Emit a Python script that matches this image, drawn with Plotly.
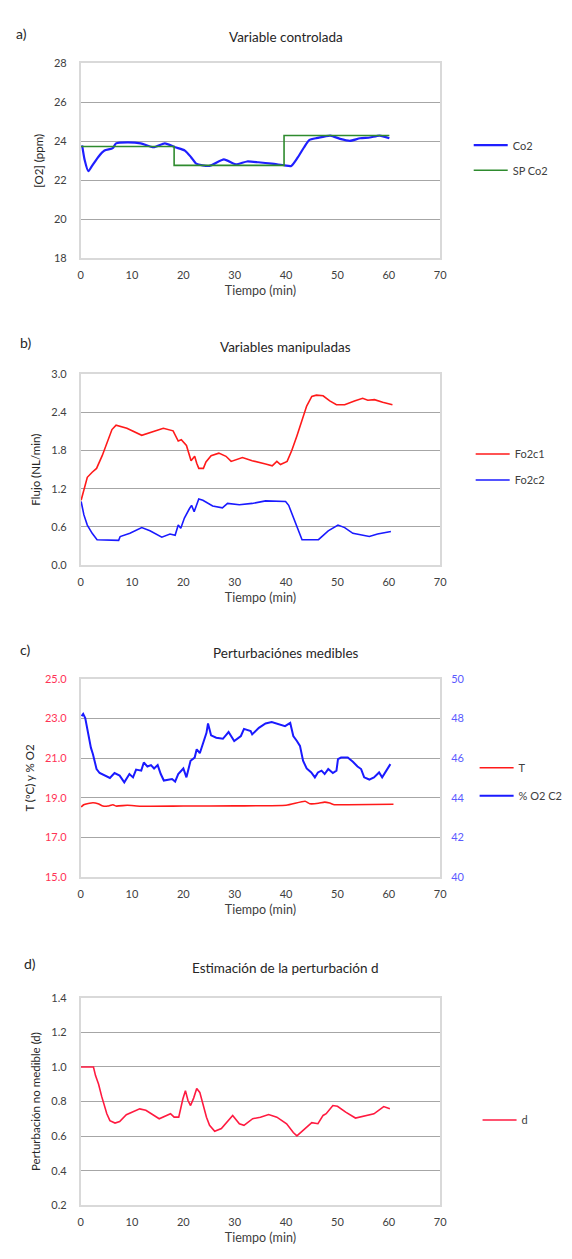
import plotly.graph_objects as go

# ---------------- data ----------------
# a) Variable controlada
t_co2 = [0.3, 0.8, 1.5, 2.1, 3.4, 4.65, 6.25, 6.9, 9.1, 11.7, 14.2, 16.4, 18.4, 20.3, 21.5, 22.5,
         25.05, 27.9, 30.2, 32.4, 34.6, 37.2, 39.7, 41.0, 42.3, 43.5, 44.5, 46.1, 48.6, 50.5,
         52.4, 54.4, 56.3, 58.2, 60.1]
co2 = [23.8, 23.03, 22.47, 22.69, 23.19, 23.53, 23.65, 23.9, 23.95, 23.9, 23.7, 23.9, 23.7, 23.53,
       23.19, 22.86, 22.74, 23.08, 22.82, 22.97, 22.93, 22.86, 22.77, 22.74, 23.19, 23.7, 24.07,
       24.18, 24.3, 24.13, 24.03, 24.16, 24.2, 24.3, 24.16]
t_sp = [0.0, 18.2, 39.6, 60.1]
sp_co2 = [23.74, 22.77, 24.3, 24.3]

# b) Variables manipuladas
t_f1 = [0.1, 0.64, 1.3, 2.25, 3.1, 4.2, 5.15, 6.1, 6.9, 9.0, 11.9, 13.5, 16.1, 18.0, 19.0, 19.6,
        20.6, 21.5, 22.2, 22.6, 23.0, 23.9, 24.4, 25.4, 26.9, 28.3, 29.3, 31.5, 33.4, 36.0, 37.3,
        38.2, 38.9, 40.2, 41.1, 42.1, 43.1, 44.0, 45.0, 45.9, 47.2, 48.5, 49.8, 51.4, 53.3, 54.9,
        55.9, 57.2, 58.8, 60.7]
fo2c1 = [1.02, 1.2, 1.38, 1.46, 1.52, 1.72, 1.93, 2.13, 2.2, 2.15, 2.04, 2.08, 2.15, 2.11, 1.95,
         1.97, 1.88, 1.64, 1.71, 1.6, 1.52, 1.52, 1.62, 1.72, 1.76, 1.71, 1.63, 1.69, 1.64, 1.59,
         1.56, 1.63, 1.58, 1.63, 1.8, 2.03, 2.26, 2.5, 2.65, 2.67, 2.66, 2.58, 2.52, 2.52, 2.58,
         2.62, 2.59, 2.6, 2.56, 2.52]
t_f2 = [0.1, 0.64, 1.3, 2.25, 3.2, 7.4, 7.7, 9.6, 11.9, 13.5, 15.8, 17.4, 18.4, 19.0, 19.5, 20.2,
        21.2, 21.6, 22.1, 23.0, 23.8, 25.7, 27.6, 28.6, 30.9, 33.4, 36.0, 39.9, 40.5, 41.5, 42.4,
        43.1, 46.3, 48.2, 50.1, 51.4, 53.0, 56.2, 57.8, 60.4]
fo2c2 = [1.0, 0.79, 0.63, 0.5, 0.4, 0.39, 0.45, 0.5, 0.59, 0.54, 0.44, 0.49, 0.47, 0.63, 0.58,
         0.74, 0.89, 0.94, 0.84, 1.04, 1.02, 0.93, 0.9, 0.97, 0.95, 0.97, 1.01, 1.0, 0.94, 0.74,
         0.55, 0.4, 0.4, 0.54, 0.63, 0.59, 0.5, 0.45, 0.49, 0.53]

# c) Perturbaciónes medibles
t_T = [0.1, 0.6, 2.4, 3.4, 4.35, 5.3, 6.3, 6.9, 9.1, 11.7, 20.0, 30.0, 40.0, 43.7, 44.6, 46.3,
       47.5, 48.5, 49.4, 52.0, 60.9]
temp = [18.53, 18.65, 18.75, 18.7, 18.58, 18.58, 18.65, 18.58, 18.62, 18.57, 18.58, 18.59, 18.62,
        18.82, 18.7, 18.72, 18.78, 18.73, 18.65, 18.65, 18.67]
t_o2 = [0.2, 0.5, 0.9, 1.5, 2.0, 2.4, 3.1, 3.7, 4.7, 5.7, 6.6, 7.6, 8.5, 9.5, 10.2, 10.8, 11.8,
        12.3, 13.0, 13.7, 14.3, 15.0, 15.6, 16.2, 17.8, 18.4, 19.0, 20.0, 20.6, 21.4, 22.2, 22.6,
        23.2, 24.0, 24.5, 24.8, 25.4, 26.4, 27.7, 28.8, 29.9, 31.2, 31.8, 33.1, 33.4, 34.7, 36.0,
        37.2, 38.5, 39.8, 40.8, 41.4, 42.1, 42.7, 43.3, 44.0, 44.9, 45.6, 46.2, 46.9, 47.5, 48.2,
        49.1, 49.8, 50.1, 50.7, 52.0, 53.0, 53.9, 54.6, 55.2, 56.2, 57.1, 58.1, 58.7, 59.7, 60.3]
o2_c2 = [48.12, 48.23, 48.03, 47.12, 46.53, 46.2, 45.45, 45.25, 45.12, 45.0, 45.25, 45.12, 44.78,
         45.2, 45.03, 45.42, 45.37, 45.78, 45.58, 45.65, 45.48, 45.65, 45.2, 44.87, 44.95, 44.82,
         45.2, 45.48, 45.03, 45.87, 46.03, 46.45, 46.25, 46.87, 47.28, 47.75, 47.15, 47.03, 46.98,
         47.32, 46.87, 47.12, 47.48, 47.37, 47.2, 47.53, 47.75, 47.82, 47.73, 47.62, 47.78, 47.12,
         46.87, 46.62, 45.87, 45.48, 45.28, 45.03, 45.28, 45.37, 45.2, 45.45, 45.25, 45.37, 45.95,
         46.03, 46.03, 45.82, 45.58, 45.45, 45.03, 44.92, 45.03, 45.28, 45.03, 45.42, 45.7]

# d) Estimación de la perturbación d
t_d = [0.0, 2.5, 2.9, 3.5, 4.1, 5.1, 5.7, 6.7, 7.6, 8.9, 11.5, 12.7, 15.3, 17.5, 18.2, 19.1, 19.9,
       20.4, 20.9, 21.4, 22.0, 22.6, 23.2, 23.9, 24.5, 25.1, 26.1, 27.4, 29.6, 30.9, 31.8, 33.5,
       35.0, 36.6, 38.2, 40.1, 41.4, 42.1, 43.4, 45.0, 46.2, 47.2, 47.8, 49.1, 50.0, 51.6, 53.5,
       55.5, 57.1, 59.0, 60.2]
d_est = [1.0, 1.0, 0.95, 0.9, 0.83, 0.73, 0.69, 0.676, 0.685, 0.724, 0.758, 0.75, 0.701, 0.73,
         0.71, 0.71, 0.815, 0.863, 0.806, 0.777, 0.82, 0.876, 0.853, 0.777, 0.71, 0.663, 0.629,
         0.644, 0.72, 0.672, 0.663, 0.701, 0.71, 0.725, 0.71, 0.672, 0.621, 0.602, 0.638, 0.678,
         0.672, 0.72, 0.73, 0.777, 0.773, 0.739, 0.705, 0.716, 0.729, 0.771, 0.758]

x_ticks = [0, 10, 20, 30, 40, 50, 60, 70]

# ---------------- layout helpers ----------------
W, H = 572, 1259
FONT = "Lato, 'Open Sans', sans-serif"
GRID = "#a6a6a6"
BORDER = "#d9d9d9"
TXT = "#404040"


def px_x(p):
    return p / W


def px_y(p):
    return 1 - p / H


X_DOM = [px_x(79), px_x(445)]
panels = {  # top, bottom pixel of plot area
    "a": (57, 254),
    "b": (371, 564),
    "c": (679, 879),
    "d": (1001, 1211),
}

fig = go.Figure()

# a)
fig.add_trace(go.Scatter(x=t_co2, y=co2, name="Co2", mode="lines",
                         line=dict(color="#1f1fff", width=2.2, shape="spline", smoothing=0.6),
                         xaxis="x", yaxis="y", legend="legend", legendgroup="a1"))
fig.add_trace(go.Scatter(x=t_sp, y=sp_co2, name="SP Co2", mode="lines",
                         line=dict(color="#2e8b2e", width=1.6, shape="hv"),
                         xaxis="x", yaxis="y", legend="legend", legendgroup="a2"))
# b)
fig.add_trace(go.Scatter(x=t_f1, y=fo2c1, name="Fo2c1", mode="lines",
                         line=dict(color="#ff1a1a", width=1.6),
                         xaxis="x2", yaxis="y2", legend="legend2", legendgroup="b1"))
fig.add_trace(go.Scatter(x=t_f2, y=fo2c2, name="Fo2c2", mode="lines",
                         line=dict(color="#1a1aff", width=1.6),
                         xaxis="x2", yaxis="y2", legend="legend2", legendgroup="b2"))
# c)
fig.add_trace(go.Scatter(x=t_T, y=temp, name="T", mode="lines",
                         line=dict(color="#ff1a1a", width=1.6, shape="spline", smoothing=0.5),
                         xaxis="x3", yaxis="y3", legend="legend3", legendgroup="c1"))
fig.add_trace(go.Scatter(x=t_o2, y=o2_c2, name="% O2 C2", mode="lines",
                         line=dict(color="#1a1aff", width=2),
                         xaxis="x3", yaxis="y5", legend="legend3", legendgroup="c2"))
# d)
fig.add_trace(go.Scatter(x=t_d, y=d_est, name="d", mode="lines",
                         line=dict(color="#ff1a40", width=1.6),
                         xaxis="x4", yaxis="y4", legend="legend4", legendgroup="d1"))


def xaxis(dom_key):
    return dict(domain=X_DOM, range=[0, 70], tickvals=x_ticks, showgrid=False, zeroline=False,
                showline=True, linecolor=BORDER, linewidth=1.5, mirror=True,
                ticks="", ticklabelstandoff=6,
                tickfont=dict(family=FONT, size=11, color=TXT),
                title=dict(text="Tiempo (min)", font=dict(family=FONT, size=12.5, color=TXT), standoff=6))


def yaxis(dom_key, rng, dtick, title, tickfmt, tickcolor=TXT):
    top, bot = panels[dom_key]
    return dict(domain=[px_y(bot), px_y(top)], range=rng, dtick=dtick, tick0=rng[0],
                showgrid=True, gridcolor=GRID, gridwidth=1.2, zeroline=False,
                showline=True, linecolor=BORDER, linewidth=1.5, mirror=True,
                ticks="", ticklabelstandoff=10, tickformat=tickfmt,
                tickfont=dict(family=FONT, size=11, color=tickcolor),
                title=dict(text=title, font=dict(family=FONT, size=11.5, color="#262626"), standoff=8))


xa = xaxis("a"); xa["anchor"] = "y"
xb = xaxis("b"); xb["anchor"] = "y2"
xc = xaxis("c"); xc["anchor"] = "y3"
xd = xaxis("d"); xd["anchor"] = "y4"

ya = yaxis("a", [18, 28], 2, "[O2] (ppm)", "d"); ya["anchor"] = "x"
yb = yaxis("b", [0, 3.0], 0.6, "Flujo (NL/min)", ".1f"); yb["anchor"] = "x2"
yc = yaxis("c", [15, 25], 2, "T (ºC) y % O2", ".1f", tickcolor="#ff3355"); yc["anchor"] = "x3"
yd = yaxis("d", [0.2, 1.4], 0.2, "Perturbación no medible (d)", ".1f"); yd["anchor"] = "x4"

top_c, bot_c = panels["c"]
yc2 = dict(domain=[px_y(bot_c), px_y(top_c)], range=[40, 50], dtick=2, tick0=40,
           overlaying="y3", side="right", anchor="x3", showgrid=False, zeroline=False,
           showline=False, ticks="", ticklabelstandoff=10,
           tickfont=dict(family=FONT, size=11, color="#5a5aff"))


def legend(x_px, y_px, gap):
    return dict(x=px_x(x_px), y=px_y(y_px), xanchor="left", yanchor="top",
                bgcolor="rgba(0,0,0,0)", borderwidth=0, tracegroupgap=gap,
                font=dict(family=FONT, size=11, color=TXT), itemwidth=34)


annotations = []
titles = [("Variable controlada", 30), ("Variables manipuladas", 344),
          ("Perturbaciónes medibles", 653), ("Estimación de la perturbación d", 971)]
for txt, yp in titles:
    annotations.append(dict(text=txt, x=px_x(288), y=px_y(yp), xref="paper", yref="paper",
                            xanchor="center", yanchor="middle", showarrow=False,
                            font=dict(family=FONT, size=13.5, color="#262626")))
labels = [("a)", 11, 27), ("b)", 15, 339), ("c)", 15, 649), ("d)", 19, 966)]
for txt, xp, yp in labels:
    annotations.append(dict(text=txt, x=px_x(xp), y=px_y(yp), xref="paper", yref="paper",
                            xanchor="left", yanchor="middle", showarrow=False,
                            font=dict(family=FONT, size=14, color="#262626")))

fig.update_layout(
    width=W, height=H,
    margin=dict(l=0, r=0, t=0, b=0),
    paper_bgcolor="white", plot_bgcolor="white",
    showlegend=True,
    xaxis=xa, xaxis2=xb, xaxis3=xc, xaxis4=xd,
    yaxis=ya, yaxis2=yb, yaxis3=yc, yaxis4=yd, yaxis5=yc2,
    legend=legend(474, 125, 6),
    legend2=legend(476, 437, 7),
    legend3=legend(480, 754, 9),
    legend4=legend(483, 1110, 7),
    annotations=annotations,
)

fig.write_html("out.html")
